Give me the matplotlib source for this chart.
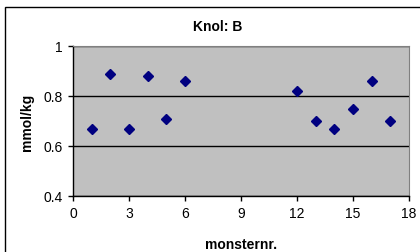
import matplotlib.pyplot as plt
from matplotlib.patches import Rectangle

# meetwaarden per monster
monster_nr = [1, 2, 3, 4, 5, 6, 12, 13, 14, 15, 16, 17]
waarden = [0.67, 0.89, 0.67, 0.88, 0.71, 0.86, 0.82, 0.70, 0.67, 0.75, 0.86, 0.70]

x_ticks = [0, 3, 6, 9, 12, 15, 18]
y_ticks = [0.4, 0.6, 0.8, 1.0]
y_labels = ["0.4", "0.6", "0.8", "1"]

plt.rcParams['font.family'] = ['Liberation Sans', 'DejaVu Sans']

W, H = 420, 253
fig = plt.figure(figsize=(W / 100, H / 100), dpi=100)
# rand rond de grafiek
fig.patches.append(Rectangle((5 / W, -0.1), 1.2, (H - 8) / H + 0.1,
                             transform=fig.transFigure, fill=False,
                             edgecolor="black", linewidth=1.0))

ax = fig.add_axes([73 / W, (H - 197) / H, 336 / W, 150 / H])
ax.set_facecolor("#C0C0C0")
ax.plot(monster_nr, waarden, linestyle="none", marker="D", markersize=5.5,
        color="#000080", zorder=3)

ax.set_xlim(0, 18)
ax.set_ylim(0.4, 1.0)
ax.set_xticks(x_ticks)
ax.set_yticks(y_ticks)
ax.set_yticklabels(y_labels)
ax.grid(axis="y", color="black", linewidth=1.0)
ax.tick_params(direction="out", length=3.5, width=1, labelsize=10, pad=4,
               colors="black")
for side in ["top", "right"]:
    ax.spines[side].set_color("#808080")
for side in ["left", "bottom"]:
    ax.spines[side].set_linewidth(1.0)

fig.text(218 / W, 1 - 27 / H, "Knol: B", fontsize=10, fontweight="bold",
         ha="center", va="center")
fig.text(241 / W, 1 - 245 / H, "monsternr.", fontsize=10, fontweight="bold",
         ha="center", va="center")
fig.text(27 / W, 1 - 122 / H, "mmol/kg", fontsize=10, fontweight="bold",
         ha="center", va="center", rotation=90)

fig.savefig("out.png", dpi=100)
